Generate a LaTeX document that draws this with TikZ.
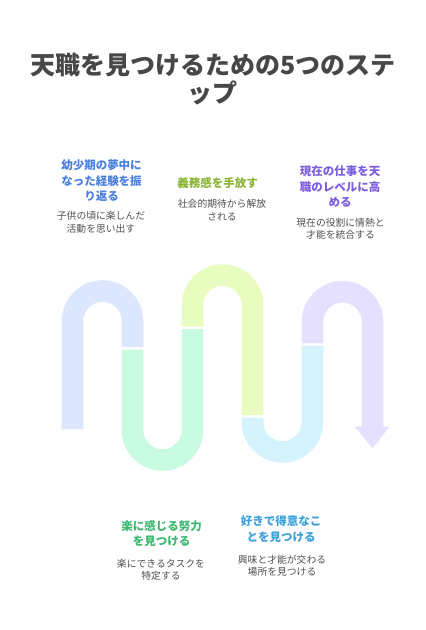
\documentclass[tikz,border=0pt]{standalone}
\usepackage{fontspec}
\setmainfont{Noto Sans CJK JP}
\usetikzlibrary{positioning}

\definecolor{ttlgray}{HTML}{474747}
\definecolor{txtgray}{HTML}{4F4F4F}
\definecolor{blueband}{HTML}{DCE6FC}
\definecolor{greenband}{HTML}{C9FAE2}
\definecolor{yellowband}{HTML}{E8FCC0}
\definecolor{cyanband}{HTML}{D4F3FC}
\definecolor{purpleband}{HTML}{E5E0FE}
\definecolor{bluetxt}{HTML}{4A7FE0}
\definecolor{greentxt}{HTML}{3CB870}
\definecolor{yellowtxt}{HTML}{8AB534}
\definecolor{cyantxt}{HTML}{3AA0DA}
\definecolor{purpletxt}{HTML}{7B5CE0}

\tikzset{
  band/.style={line width=21.6pt, line cap=butt},
  steptitle/.style={inner sep=0pt, align=center, font=\fontsize{11.5}{15.5}\selectfont\bfseries},
  stepdesc/.style={inner sep=0pt, align=center, text=txtgray, font=\fontsize{9.8}{12.4}\selectfont}
}

\begin{document}
\begin{tikzpicture}[x=1pt,y=-1pt]
  \useasboundingbox (0,0) rectangle (426,630);

  % title
  \node[inner sep=0pt, align=center, text=ttlgray,
        font=\fontsize{25}{28.5}\selectfont\bfseries] (title) at (213,79)
    {天職を見つけるための5つのステ\\ップ};

  % the ribbon
  \draw[band, blueband] (72.5,429) -- (72.5,321)
    arc[start angle=180, end angle=360, radius=30] -- (132.5,347);
  \draw[band, greenband] (132.5,349.5) -- (132.5,430)
    arc[start angle=180, end angle=0, radius=30] -- (192.5,329);
  \draw[band, yellowband] (192.5,326.5) -- (192.5,305)
    arc[start angle=180, end angle=360, radius=30] -- (252.5,415);
  \draw[band, cyanband] (252.5,417.5) -- (252.5,422)
    arc[start angle=180, end angle=0, radius=30] -- (312.5,345.7);
  \draw[band, purpleband] (312.5,343.3) -- (312.5,321.7)
    arc[start angle=180, end angle=360, radius=30] -- (372.5,427);
  \fill[purpleband] (355,426.7) -- (389.5,426.7) -- (372.5,448.3) -- cycle;

  % step texts
  \node[steptitle, text=bluetxt] (memory) at (101.5,181)
    {幼少期の夢中に\\なった経験を振\\り返る};
  \node[stepdesc] (memorydesc) at (101,222.4)
    {子供の頃に楽しんだ\\活動を思い出す};

  \node[steptitle, text=yellowtxt] (release) at (217.5,182.7) {義務感を手放す};
  \node[stepdesc] (releasedesc) at (222,210)
    {社会的期待から解放\\される};

  \node[steptitle, text=purpletxt] (calling) at (340,186.8)
    {現在の仕事を天\\職のレベルに高\\める};
  \node[stepdesc] (callingdesc) at (340.5,228.5)
    {現在の役割に情熱と\\才能を統合する};

  \node[steptitle, text=greentxt] (effort) at (161.7,533.8)
    {楽に感じる努力\\を見つける};
  \node[stepdesc] (effortdesc) at (161,570)
    {楽にできるタスクを\\特定する};

  \node[steptitle, text=cyantxt] (strength) at (281,529.3)
    {好きで得意なこ\\とを見つける};
  \node[stepdesc] (strengthdesc) at (282,565.5)
    {興味と才能が交わる\\場所を見つける};
\end{tikzpicture}
\end{document}
